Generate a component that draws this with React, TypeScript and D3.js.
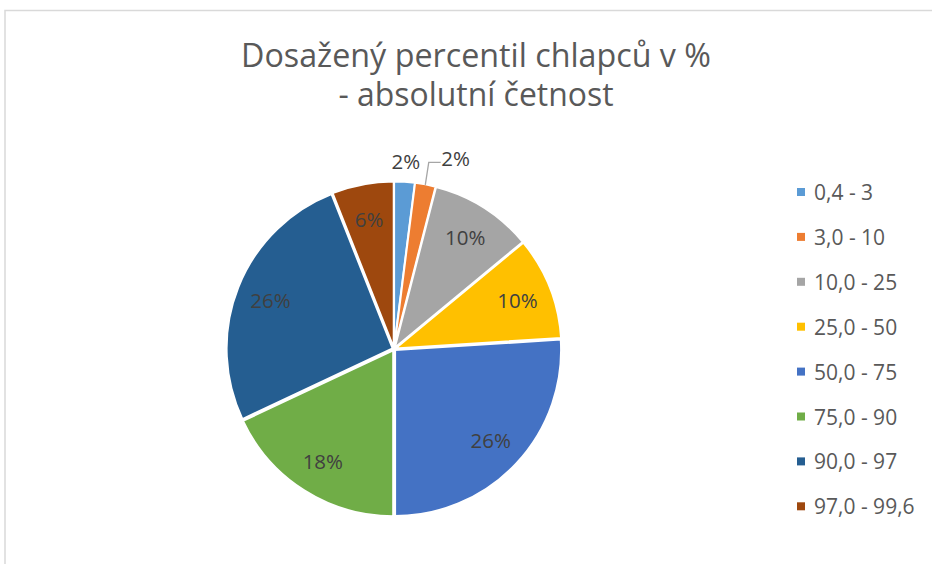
import React from "react";
import * as d3 from "d3";

const categories = ["0,4 - 3", "3,0 - 10", "10,0 - 25", "25,0 - 50", "50,0 - 75", "75,0 - 90", "90,0 - 97", "97,0 - 99,6"];
const values = [2, 2, 10, 10, 26, 18, 26, 6];
const colors = ["#5B9BD5", "#ED7D31", "#A5A5A5", "#FFC000", "#4472C4", "#70AD47", "#255E91", "#9E480E"];
const titleLines = ["Dosažený percentil chlapců v %", "- absolutní četnost"];

const W = 932;
const H = 564;
const FONT = "'Open Sans', 'Noto Sans', sans-serif";

export default function App() {
  const cx = 394;
  const cy = 349;
  const r = 166;
  const explode = 1.5;
  const total = d3.sum(values);
  const pie = d3.pie<number>().value((d) => d).sort(null);
  const arcs = pie(values);
  const arcGen = d3.arc<d3.PieArcDatum<number>>().innerRadius(0).outerRadius(r);

  const labelFont = 20.5;
  const approxW = (s: string) => s.length * labelFont * 0.68;

  let prevRight = -Infinity;
  const labels = arcs.map((a) => {
    const mid = (a.startAngle + a.endAngle) / 2;
    const pct = Math.round((a.value / total) * 100) + "%";
    const inside = a.value / total >= 0.05;
    if (inside) {
      const rr = r * 0.8;
      return { text: pct, x: cx + rr * Math.sin(mid), y: cy - rr * Math.cos(mid), leader: null as null | [number, number][] };
    }
    const rl = r + 22;
    let x = cx + rl * Math.sin(mid);
    let y = cy - rl * Math.cos(mid);
    const w = approxW(pct);
    let leader: null | [number, number][] = null;
    if (x - w / 2 < prevRight + 4) {
      const left = prevRight + 22;
      x = left + w / 2;
      y = y - 6;
      const sx = cx + (r + 1) * Math.sin(mid);
      const sy = cy - (r + 1) * Math.cos(mid);
      leader = [
        [sx, sy],
        [left - 13, y + 4],
        [left - 1, y + 4],
      ];
    }
    prevRight = x + w / 2;
    return { text: pct, x, y, leader };
  });

  const legendX = 797;
  const legendY0 = 192;
  const legendStep = 44.9;

  return (
    <div style={{ position: "absolute", left: 0, top: 0, width: W, height: H, background: "#fff" }}>
      <svg width={W} height={H} style={{ display: "block" }}>
        <rect x={0} y={0} width={W} height={H} fill="#ffffff" />
        <rect x={5} y={10.5} width={W + 50} height={H + 50} fill="none" stroke="#d9d9d9" strokeWidth={1.5} />
        <g fontFamily={FONT} fill="#595959" textAnchor="middle">
          {titleLines.map((t, i) => (
            <text key={i} x={476} y={67 + i * 39} fontSize={32} textLength={i === 0 ? 470 : 275} lengthAdjust="spacingAndGlyphs">
              {t}
            </text>
          ))}
        </g>
        <g>
          {arcs.map((a, i) => {
            const mid = (a.startAngle + a.endAngle) / 2;
            const dx = explode * Math.sin(mid);
            const dy = -explode * Math.cos(mid);
            return (
              <path
                key={i}
                d={arcGen(a) || ""}
                transform={`translate(${cx + dx},${cy + dy})`}
                fill={colors[i]}
                stroke="#ffffff"
                strokeWidth={2}
                strokeLinejoin="round"
              />
            );
          })}
        </g>
        <g fontFamily={FONT} fontSize={labelFont} fill="#404040" textAnchor="middle">
          {labels.map((l, i) => (
            <g key={i}>
              {l.leader && (
                <polyline
                  points={l.leader.map((p) => p.join(",")).join(" ")}
                  fill="none"
                  stroke="#a6a6a6"
                  strokeWidth={1.3}
                />
              )}
              <text x={l.x} y={l.y} dominantBaseline="central">
                {l.text}
              </text>
            </g>
          ))}
        </g>
        <g fontFamily={FONT} fontSize={21} fill="#595959">
          {categories.map((c, i) => (
            <g key={i} transform={`translate(${legendX},${legendY0 + i * legendStep})`}>
              <rect x={0} y={-4} width={8} height={8} fill={colors[i]} />
              <text x={17} y={0} dominantBaseline="central">
                {c}
              </text>
            </g>
          ))}
        </g>
      </svg>
    </div>
  );
}
